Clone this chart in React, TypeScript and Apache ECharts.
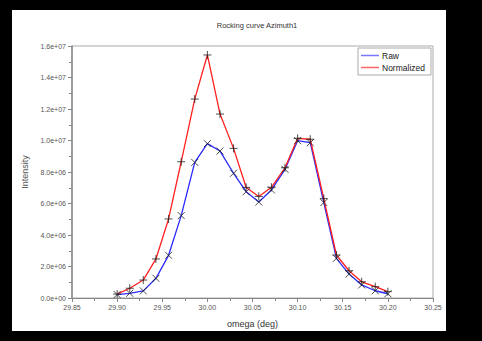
import React, { useEffect, useRef } from "react";
import * as echarts from "echarts";

const omega = [
  29.9, 29.914, 29.929, 29.943, 29.957, 29.971, 29.986, 30.0, 30.014, 30.029, 30.043,
  30.057, 30.071, 30.086, 30.1, 30.114, 30.129, 30.143, 30.157, 30.171, 30.186, 30.2,
];
const raw = [
  0.22e6, 0.3e6, 0.45e6, 1.25e6, 2.71e6, 5.23e6, 8.61e6, 9.8e6, 9.33e6, 7.92e6, 6.75e6,
  6.09e6, 6.86e6, 8.17e6, 9.99e6, 9.86e6, 6.06e6, 2.52e6, 1.52e6, 0.83e6, 0.46e6, 0.27e6,
];
const normalized = [
  0.25e6, 0.62e6, 1.14e6, 2.48e6, 5.02e6, 8.65e6, 12.63e6, 15.43e6, 11.68e6, 9.5e6, 7.02e6,
  6.45e6, 7.03e6, 8.27e6, 10.14e6, 10.08e6, 6.31e6, 2.73e6, 1.73e6, 1.03e6, 0.72e6, 0.4e6,
];
const seriesNames = ["Raw", "Normalized"];
const titleText = "Rocking curve Azimuth1";
const xName = "omega (deg)";
const yName = "Intensity";

const fmtExp = (v: number) => {
  const s = v.toExponential(1);
  const [m, e] = s.split("e");
  const sign = e[0] === "-" ? "-" : "+";
  const d = e.replace(/[+-]/, "");
  return `${m}e${sign}${d.padStart(2, "0")}`;
};

const plus = "path://M5,0L5,10M0,5L10,5";
const cross = "path://M0,0L10,10M0,10L10,0";

export default function App() {
  const ref = useRef<HTMLDivElement>(null);
  useEffect(() => {
    document.body.style.margin = "0";
    const chart = echarts.init(ref.current!, undefined, { renderer: "svg" });
    const rawData = omega.map((x, i) => [x, raw[i]]);
    const normData = omega.map((x, i) => [x, normalized[i]]);
    const font = "Liberation Sans";
    chart.setOption({
      animation: false,
      textStyle: { fontFamily: font },
      title: {
        text: titleText,
        left: 252,
        top: 16,
        textAlign: "center",
        textStyle: { fontSize: 7.5, fontWeight: "normal", color: "#333333", fontFamily: font },
      },
      legend: {
        orient: "vertical",
        left: 358,
        top: 48,
        data: [
          { name: seriesNames[0], itemStyle: { color: "#7777ff" } },
          { name: seriesNames[1], itemStyle: { color: "#ff6666" } },
        ],
        icon: "rect",
        itemWidth: 18,
        itemHeight: 1.5,
        itemGap: 3,
        padding: [3, 6, 3, 3],
        borderColor: "#aaa",
        borderWidth: 1,
        backgroundColor: "#fff",
        textStyle: { fontSize: 8.5, color: "#222", fontFamily: font, padding: [0, 0, 0, -2] },
      },
      grid: {
        left: 72,
        right: 49,
        top: 46,
        bottom: 43,
        show: true,
        borderColor: "#aaa",
        borderWidth: 1,
        backgroundColor: "transparent",
      },
      xAxis: {
        type: "value",
        min: 29.85,
        max: 30.25,
        interval: 0.05,
        name: xName,
        nameLocation: "middle",
        nameGap: 21,
        nameTextStyle: { fontSize: 9, color: "#333333", fontFamily: font },
        axisLine: { show: true, lineStyle: { color: "#888", width: 1 } },
        axisTick: { show: true, length: 4, lineStyle: { color: "#888" } },
        minorTick: { show: true, splitNumber: 2, length: 3, lineStyle: { color: "#888" } },
        splitLine: { show: false },
        axisLabel: {
          fontSize: 7,
          color: "#555555",
          margin: 6,
          formatter: (v: number) => v.toFixed(2),
        },
      },
      yAxis: {
        type: "value",
        min: 0,
        max: 1.6e7,
        interval: 2e6,
        name: yName,
        nameLocation: "middle",
        nameGap: 38,
        nameTextStyle: { fontSize: 9, color: "#555555", fontFamily: font },
        axisLine: { show: true, lineStyle: { color: "#888", width: 1.5 } },
        axisTick: { show: true, length: 4, lineStyle: { color: "#888" } },
        minorTick: { show: true, splitNumber: 2, length: 3, lineStyle: { color: "#888" } },
        splitLine: { show: false },
        axisLabel: { fontSize: 7, color: "#555555", margin: 6, formatter: fmtExp },
      },
      series: [
        {
          name: seriesNames[0],
          type: "line",
          data: rawData,
          showSymbol: false,
          itemStyle: { color: "#3333ff" },
          lineStyle: { color: "#2a2aff", width: 1.3 },
          z: 2,
        },
        {
          name: seriesNames[1],
          type: "line",
          data: normData,
          showSymbol: false,
          itemStyle: { color: "#ff3333" },
          lineStyle: { color: "#ff2020", width: 1.3 },
          z: 2,
        },
        {
          name: "rawMarks",
          type: "scatter",
          data: rawData,
          symbol: cross,
          symbolSize: 7,
          itemStyle: { color: "none", borderColor: "#222", borderWidth: 1 },
          z: 3,
        },
        {
          name: "normMarks",
          type: "scatter",
          data: normData,
          symbol: plus,
          symbolSize: 8,
          itemStyle: { color: "none", borderColor: "#222", borderWidth: 1 },
          z: 3,
        },
      ],
    });
    return () => chart.dispose();
  }, []);
  return (
    <div style={{ position: "relative", width: 482, height: 341, background: "#000" }}>
      <div style={{ position: "absolute", left: 12, top: 10, width: 434, height: 321, background: "#fff" }} />
      <div ref={ref} style={{ position: "absolute", left: 0, top: 0, width: 482, height: 341 }} />
    </div>
  );
}
